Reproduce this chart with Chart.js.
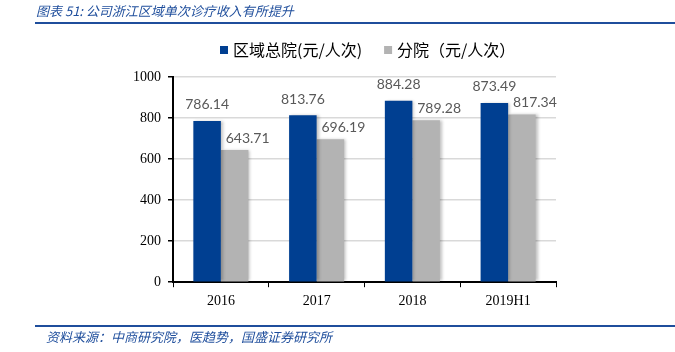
<!DOCTYPE html>
<html><head><meta charset="utf-8">
<script src="https://cdn.jsdelivr.net/npm/chart.js@4"></script>
<style>
html,body{margin:0;padding:0;background:#fff;}
#wrap{position:relative;width:675px;height:352px;}
#c{position:absolute;left:0;top:0;}
.t{position:absolute;font-family:"Noto Sans CJK SC";font-style:italic;color:#1f4e9c;font-size:13px;white-space:nowrap;}
.ln{position:absolute;background:#1f4e9c;height:2px;}
</style></head><body>
<div id="wrap">
<canvas id="c" width="675" height="352"></canvas>
<div class="t" style="left:36px;top:1px;">图表 51:  公司浙江区域单次诊疗收入有所提升</div>
<div class="ln" style="left:35px;top:22px;width:640px;"></div>
<div class="ln" style="left:35px;top:325px;width:640px;"></div>
<div class="t" style="left:46px;top:327px;">资料来源：中商研究院，医趋势，国盛证券研究所</div>
</div>
<script>
const categories = ['2016','2017','2018','2019H1'];
const seriesNames = ['区域总院(元/人次)','分院（元/人次）'];
const mainValues = [786.14, 813.76, 884.28, 873.49];
const branchValues = [643.71, 696.19, 789.28, 817.34];
const yTicks = [0,200,400,600,800,1000];

const labelPlugin = {
  id:'labels',
  afterDatasetsDraw(chart){
    const ctx = chart.ctx;
    ctx.save();
    ctx.font = '14px Lato';
    ctx.fillStyle = '#595959';
    ctx.textAlign = 'center';
    ctx.textBaseline = 'bottom';
    chart.data.datasets.forEach((ds,i)=>{
      const meta = chart.getDatasetMeta(i);
      meta.data.forEach((bar,j)=>{
        const dx = i===0 ? 0 : 13;
        const dy = i===0 ? 9 : 5;
        ctx.fillText(ds.data[j].toFixed(2), bar.x+dx, bar.y-dy);
      });
    });
    ctx.restore();
  }
};
const legendPlugin = {
  id:'customLegend',
  afterDraw(chart){
    const ctx = chart.ctx;
    ctx.save();
    ctx.font = '16px "Noto Sans CJK SC"';
    ctx.textBaseline = 'middle';
    ctx.textAlign = 'left';
    let x = 220; const y = 50;
    chart.data.datasets.forEach(ds=>{
      ctx.fillStyle = ds.backgroundColor;
      ctx.fillRect(x, y-4, 8, 8);
      ctx.fillStyle = '#000';
      ctx.fillText(ds.label, x+13, y);
      x += 13 + ctx.measureText(ds.label).width + 22;
    });
    ctx.restore();
  }
};
const shadowPlugin = {
  id:'shadow',
  beforeDatasetsDraw(chart){ const c=chart.ctx; c.save(); c.shadowColor='rgba(0,0,0,0.25)'; c.shadowBlur=3; c.shadowOffsetX=2; c.shadowOffsetY=0; },
  afterDatasetsDraw(chart){ chart.ctx.restore(); }
};

new Chart(document.getElementById('c'),{
  type:'bar',
  data:{
    labels:categories,
    datasets:[
      {label:seriesNames[0],data:mainValues,backgroundColor:'#003f91'},
      {label:seriesNames[1],data:branchValues,backgroundColor:'#b3b3b3'}
    ]
  },
  options:{
    responsive:false,animation:false,
    layout:{padding:{left:0,right:119,top:77,bottom:36}},
    datasets:{bar:{categoryPercentage:0.575,barPercentage:1}},
    plugins:{
      tooltip:{enabled:false},
      legend:{display:false}
    },
    scales:{
      x:{offset:true,
        grid:{offset:true,drawOnChartArea:false,drawTicks:true,tickLength:5,tickColor:'#000'},
        border:{color:'#000',width:2},
        ticks:{font:{family:'"Liberation Serif"',size:14},color:'#000',padding:6}},
      y:{min:0,max:1000,
        afterBuildTicks(s){s.ticks=yTicks.map(v=>({value:v}));},
        afterFit(s){s.width=173;},
        grid:{color:'#d9d9d9',lineWidth:1.5,tickColor:'#000',tickLength:5,drawTicks:true},
        border:{color:'#000',width:2},
        ticks:{font:{family:'"Liberation Serif"',size:14},color:'#000',padding:7,callback:v=>String(v)}}
    }
  },
  plugins:[shadowPlugin,labelPlugin,legendPlugin]
});
</script>
</body></html>
